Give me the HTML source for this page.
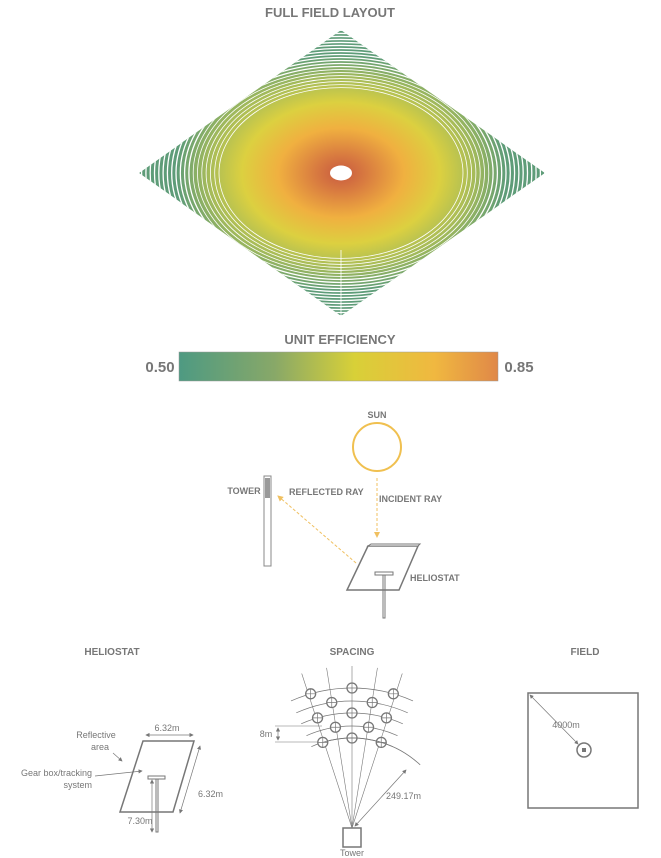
<!DOCTYPE html>
<html><head><meta charset="utf-8"><style>
body{margin:0;background:#fff;width:661px;height:858px;overflow:hidden}
svg{display:block}
text{font-family:"Liberation Sans",sans-serif;fill:#777}
.t{font-weight:bold;font-size:13px}
.s{font-size:9px}
</style></head><body>
<svg id="c" width="661" height="858" viewBox="0 0 661 858">
<defs>
<radialGradient id="eff" cx="0.5" cy="0.5" r="0.5">
<stop offset="0" stop-color="#c85a40"/><stop offset="0.15" stop-color="#d87a40"/>
<stop offset="0.38" stop-color="#f0b040"/><stop offset="0.6" stop-color="#dcd040"/>
<stop offset="0.8" stop-color="#a8bc58"/><stop offset="1" stop-color="#5e9c78"/>
</radialGradient>
<linearGradient id="bar" x1="0" x2="1">
<stop offset="0" stop-color="#4e9a82"/><stop offset="0.3" stop-color="#88a868"/>
<stop offset="0.55" stop-color="#d8d038"/><stop offset="0.8" stop-color="#f0b840"/>
<stop offset="1" stop-color="#e08848"/>
</linearGradient>
<clipPath id="dia"><polygon points="139,173 341,30 545,173 341,316"/></clipPath>
<marker id="ah" markerWidth="6" markerHeight="6" refX="5" refY="3" orient="auto"><path d="M0,0L6,3L0,6z" fill="#f0c060"/></marker>
<marker id="gh" markerWidth="6" markerHeight="6" refX="5" refY="3" orient="auto-start-reverse"><path d="M0,0L6,3L0,6z" fill="#777"/></marker>
</defs>
<text class="t" x="330" y="17" text-anchor="middle">FULL FIELD LAYOUT</text>
<g clip-path="url(#dia)">
<polygon points="139,173 341,30 545,173 341,316" fill="#5e9c78"/>
<ellipse cx="341" cy="173" rx="165" ry="118" fill="url(#eff)"/>
<g id="rings"></g>
<line x1="341" y1="250" x2="341" y2="316" stroke="#fff" stroke-width="0.8"/>
</g>
<ellipse cx="341" cy="173" rx="11" ry="7.5" fill="#fff"/>
<text class="t" x="340" y="344" text-anchor="middle">UNIT EFFICIENCY</text>
<rect x="179" y="352" width="319" height="29" fill="url(#bar)" stroke="#999" stroke-width="0.5"/>
<text x="160" y="372" font-size="15" font-weight="bold" text-anchor="middle">0.50</text>
<text x="519" y="372" font-size="15" font-weight="bold" text-anchor="middle">0.85</text>
<g>
<text x="377" y="418" font-size="9" font-weight="bold" text-anchor="middle">SUN</text>
<circle cx="377" cy="447" r="24" fill="none" stroke="#f0c050" stroke-width="2"/>
<line x1="377" y1="478" x2="377" y2="537" stroke="#f0c060" stroke-dasharray="3,2" marker-end="url(#ah)"/>
<text x="379" y="502" font-size="9" font-weight="bold">INCIDENT RAY</text>
<rect x="264" y="476" width="7" height="90" fill="none" stroke="#888" stroke-width="1"/>
<rect x="265" y="478" width="5" height="20" fill="#999"/>
<text x="244" y="494" font-size="9" font-weight="bold" text-anchor="middle">TOWER</text>
<text x="289" y="495" font-size="9" font-weight="bold">REFLECTED RAY</text>
<line x1="356" y1="563" x2="278" y2="496" stroke="#f0c060" stroke-dasharray="3,2" marker-end="url(#ah)"/>
<polygon points="368,546 418,546 399,590 347,590" fill="#fff" stroke="#777" stroke-width="1.5"/>
<polygon points="371,544 420,544 418,546 368,546" fill="#fff" stroke="#777" stroke-width="1"/>
<rect x="375" y="572" width="18" height="3" fill="none" stroke="#777"/>
<rect x="383" y="575" width="2" height="43" fill="none" stroke="#777"/>
<text x="410" y="581" font-size="9" font-weight="bold">HELIOSTAT</text>
</g>
<text x="112" y="655" font-size="10" font-weight="bold" text-anchor="middle">HELIOSTAT</text>
<text x="352" y="655" font-size="10" font-weight="bold" text-anchor="middle">SPACING</text>
<text x="585" y="655" font-size="10" font-weight="bold" text-anchor="middle">FIELD</text>
<g stroke="#777" fill="none">
<polygon points="143,741 194,741 173,812 120,812" stroke-width="1.5"/>
<rect x="148" y="776" width="17" height="3"/>
<rect x="156" y="779" width="2" height="53"/>
<line x1="146" y1="735" x2="193" y2="735" marker-start="url(#gh)" marker-end="url(#gh)" stroke-width="0.7"/>
<line x1="200" y1="746" x2="180" y2="813" marker-start="url(#gh)" marker-end="url(#gh)" stroke-width="0.7"/>
<line x1="152" y1="780" x2="152" y2="832" marker-start="url(#gh)" marker-end="url(#gh)" stroke-width="0.7"/>
<line x1="113" y1="753" x2="122" y2="761" marker-end="url(#gh)" stroke-width="0.7"/>
<line x1="95" y1="776" x2="142" y2="771" marker-end="url(#gh)" stroke-width="0.7"/>
</g>
<text class="s" x="167" y="731" text-anchor="middle">6.32m</text>
<text class="s" x="96" y="738" text-anchor="middle">Reflective</text>
<text class="s" x="100" y="750" text-anchor="middle">area</text>
<text class="s" x="92" y="776" text-anchor="end">Gear box/tracking</text>
<text class="s" x="92" y="788" text-anchor="end">system</text>
<text class="s" x="198" y="797">6.32m</text>
<text class="s" x="140" y="824" text-anchor="middle">7.30m</text>
<g id="spacing" stroke="#777" fill="none"></g>
<text class="s" x="352" y="856" text-anchor="middle">Tower</text>
<text class="s" x="266" y="737" text-anchor="middle">8m</text>
<text class="s" x="386" y="799">249.17m</text>
<g stroke="#777" fill="none">
<rect x="528" y="693" width="110" height="115" stroke-width="1.5"/>
<line x1="530" y1="695" x2="578" y2="744" marker-start="url(#gh)" marker-end="url(#gh)" stroke-width="0.7"/>
<circle cx="584" cy="750" r="7" stroke-width="1.5"/>
<rect x="582.5" y="748.5" width="3" height="3" fill="#777"/>
</g>
<text class="s" x="566" y="728" text-anchor="middle">4000m</text>
</svg>
<script>
const effRange=[0.50,0.85];
const ringRadii=[];for(let r=122;r<=300;r+=4.3)ringRadii.push(r);
const rowRadii=[100,112,125,137,150];
const rowAngles=[[-17,0,17],[-8.5,8.5],[-16,0,16],[-8.5,8.5],[-16,0,16]];
const rayAngles=[-17,-8.5,0,8.5,17];
const NS="http://www.w3.org/2000/svg";
const rg=document.getElementById('rings');
ringRadii.forEach(r=>{const e=document.createElementNS(NS,'ellipse');


e.setAttribute('cx',341);e.setAttribute('cy',173);e.setAttribute('rx',r);e.setAttribute('ry',r*0.7);
e.setAttribute('fill','none');e.setAttribute('stroke','#fff');e.setAttribute('stroke-width',r>150?1.3:0.8);rg.appendChild(e);});
const sp=document.getElementById('spacing');const cx=352,cy=838;
function add(tag,a){const e=document.createElementNS(NS,tag);for(const k in a)e.setAttribute(k,a[k]);sp.appendChild(e);return e;}
const rad=d=>d*Math.PI/180;
rayAngles.forEach(a=>{const l=add('line',{x1:cx,y1:828,x2:cx+172*Math.sin(rad(a)),y2:cy-172*Math.cos(rad(a)),'stroke-width':0.6});

});
rowRadii.forEach((R,i)=>{const p=add('path',{d:`M${cx+R*Math.sin(rad(-24))},${cy-R*Math.cos(rad(-24))} A${R},${R} 0 0 1 ${cx+R*Math.sin(rad(24))},${cy-R*Math.cos(rad(24))}`,'stroke-width':0.7});


rowAngles[i].forEach(a=>{const x=cx+R*Math.sin(rad(a)),y=cy-R*Math.cos(rad(a));
const c=add('circle',{cx:x,cy:y,r:5,fill:'#fff','stroke-width':1.3});


add('path',{d:`M${x-5},${y}h10M${x},${y-5}v10`,'stroke-width':0.7});});});
add('path',{d:`M${cx+100*Math.sin(rad(-17))},${cy-100*Math.cos(rad(-17))} A100,100 0 0 1 ${cx+100*Math.sin(rad(43))},${cy-100*Math.cos(rad(43))}`,'stroke-width':0.8});
add('line',{x1:355,y1:826,x2:406,y2:770,'marker-start':'url(#gh)','marker-end':'url(#gh)','stroke-width':0.7});
add('line',{x1:275,y1:726,x2:322,y2:726,'stroke-width':0.6});
add('line',{x1:275,y1:742,x2:318,y2:742,'stroke-width':0.6});
add('line',{x1:278,y1:728,x2:278,y2:740,'marker-start':'url(#gh)','marker-end':'url(#gh)','stroke-width':0.7});
add('rect',{x:343,y:828,width:18,height:19,fill:'#fff','stroke-width':1.5});
</script>
</body></html>
